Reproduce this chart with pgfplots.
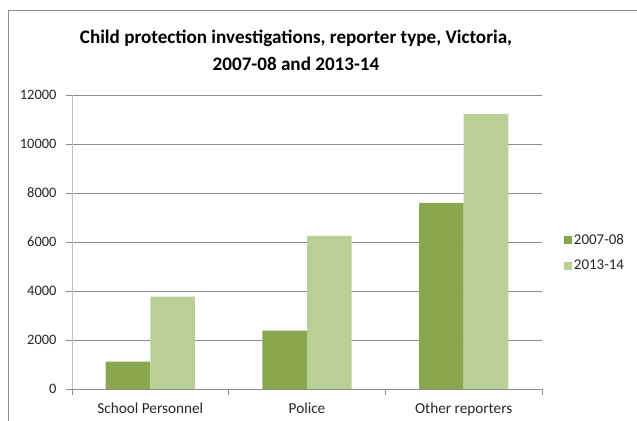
\documentclass[border=0pt]{standalone}
\usepackage{fontspec}
\setmainfont{Carlito}
\usepackage{pgfplots}
\pgfplotsset{compat=1.18}
\definecolor{dk}{HTML}{8AA64F}
\definecolor{lt}{HTML}{BACF96}
\definecolor{gridc}{HTML}{8C8C8C}
\definecolor{axc}{HTML}{BFBFBF}
\begin{document}
\begin{tikzpicture}
\useasboundingbox (0bp,0bp) rectangle (637bp,421bp);
\draw[color=gridc, line width=0.9bp] (8bp,0bp) -- (8bp,411bp) -- (637bp,411bp);
\node[font=\fontsize{19.2}{27}\selectfont\bfseries, align=center] at (296bp,370.5bp) {Child protection investigations, reporter type, Victoria,\\2007-08 and 2013-14};
\begin{axis}[
  at={(72bp,32bp)}, anchor=south west,
  scale only axis, width=470bp, height=294bp,
  ybar,
  xmin=-0.5, xmax=2.5, ymin=0, ymax=12000,
  ytick={0,2000,4000,6000,8000,10000,12000},
  scaled y ticks=false,
  xtick={0,1,2},
  xticklabels={School Personnel, Police, Other reporters},
  minor xtick={-0.5,0.5,1.5,2.5},
  major x tick style={draw=none},
  minor x tick style={draw=gridc, line width=0.8bp},
  y tick style={draw=gridc, line width=0.8bp},
  major tick length=6bp, minor tick length=6bp,
  tick align=outside,
  xtick pos=lower, ytick pos=left,
  axis x line*=bottom, axis y line*=left,
  x axis line style={draw=gridc, line width=0.8bp, -},
  y axis line style={draw=axc, line width=0.9bp, -},
  ymajorgrids, grid style={draw=gridc, line width=0.8bp},
  /pgf/number format/assume math mode=true,
  /pgf/number format/1000 sep={},
  yticklabel style={font=\fontsize{14.5}{17}\selectfont, text=black!85, xshift=-6bp},
  xticklabel style={font=\fontsize{15.3}{17}\selectfont, text=black!85, yshift=-4bp},
  legend style={draw=none, fill=none, at={(1.04,0.463)}, anchor=west,
    font=\fontsize{15}{17}\selectfont, row sep=10bp, text=black!85},
  legend cell align=left,
  legend image code/.code={\fill[#1] (0bp,-4bp) rectangle (8bp,4bp);},
]
\addplot[fill=dk, draw=none, bar width=0.285, bar shift=-0.1425] coordinates {(0,1115) (1,2380) (2,7600)};
\addplot[fill=lt, draw=none, bar width=0.285, bar shift=0.1425] coordinates {(0,3770) (1,6250) (2,11230)};
\legend{2007-08, 2013-14}
\end{axis}
\end{tikzpicture}
\end{document}
